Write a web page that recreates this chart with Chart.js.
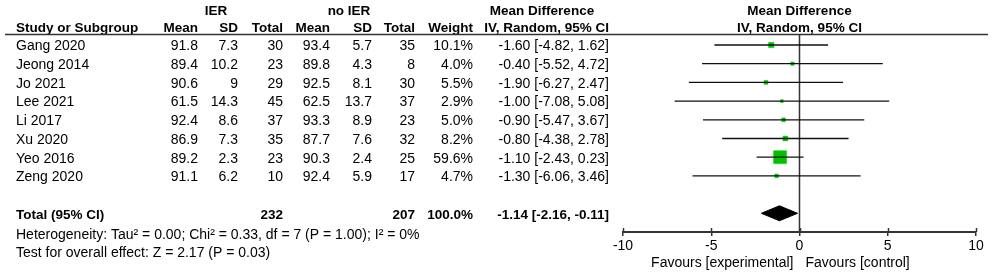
<!DOCTYPE html>
<html lang="en">
<head>
    <meta charset="UTF-8">
    <title>Forest plot - IER vs no IER</title>
    <script src="https://cdn.jsdelivr.net/npm/chart.js"></script>
    <style>
        body { margin: 0; background: #fff; }
        #wrap { width: 995px; height: 274px; }
    </style>
</head>
<body>
    <div id="wrap"><canvas id="forest"></canvas></div>

    <script>
        // study data
        const studies = ['Gang 2020', 'Jeong 2014', 'Jo 2021', 'Lee 2021', 'Li 2017', 'Xu 2020', 'Yeo 2016', 'Zeng 2020'];
        const ierMean = [91.8, 89.4, 90.6, 61.5, 92.4, 86.9, 89.2, 91.1];
        const ierSD = [7.3, 10.2, 9, 14.3, 8.6, 7.3, 2.3, 6.2];
        const ierTotal = [30, 23, 29, 45, 37, 35, 23, 10];
        const ctlMean = [93.4, 89.8, 92.5, 62.5, 93.3, 87.7, 90.3, 92.4];
        const ctlSD = [5.7, 4.3, 8.1, 13.7, 8.9, 7.6, 2.4, 5.9];
        const ctlTotal = [35, 8, 30, 37, 23, 32, 25, 17];
        const weights = [10.1, 4.0, 5.5, 2.9, 5.0, 8.2, 59.6, 4.7];
        const md = [-1.60, -0.40, -1.90, -1.00, -0.90, -0.80, -1.10, -1.30];
        const ciLow = [-4.82, -5.52, -6.27, -7.08, -5.47, -4.38, -2.43, -6.06];
        const ciHigh = [1.62, 4.72, 2.47, 5.08, 3.67, 2.78, 0.23, 3.46];

        // pooled result
        const pooled = { md: -1.14, low: -2.16, high: -0.11, ierN: 232, ctlN: 207 };
        const xTicks = [-10, -5, 0, 5, 10];

        const FONT = '"Liberation Sans", Arial, sans-serif';
        const GREEN = '#00c000';
        const LINE = '#333';

        // one row per study, row 10 = total
        const totalRow = 10;

        const datasets = [];

        // confidence interval lines
        studies.forEach((s, i) => {
            datasets.push({
                type: 'scatter',
                showLine: true,
                data: [{ x: ciLow[i], y: i + 1 }, { x: ciHigh[i], y: i + 1 }],
                borderColor: '#111',
                borderWidth: 1.3,
                pointRadius: 0
            });
        });

        // line of no effect
        datasets.push({
            type: 'scatter',
            showLine: true,
            data: [{ x: 0, y: 0.42 }, { x: 0, y: 11 }],
            borderColor: LINE,
            borderWidth: 1.5,
            pointRadius: 0
        });

        // weighted squares (side ~ sqrt of weight)
        datasets.push({
            type: 'scatter',
            data: md.map((v, i) => ({ x: v, y: i + 1 })),
            pointStyle: 'rect',
            pointRadius: weights.map(w => 13 * Math.sqrt(w / 59.6) / Math.SQRT2),
            pointBackgroundColor: GREEN,
            pointBorderColor: '#10c810',
            pointBorderWidth: 0.5
        });

        // pooled diamond
        datasets.push({
            type: 'line',
            data: [
                { x: pooled.low, y: totalRow },
                { x: pooled.md, y: totalRow - 0.4 },
                { x: pooled.high, y: totalRow },
                { x: pooled.md, y: totalRow + 0.4 },
                { x: pooled.low, y: totalRow }
            ],
            borderColor: '#000',
            borderWidth: 1,
            backgroundColor: '#000',
            fill: 'shape',
            pointRadius: 0,
            tension: 0
        });

        function txt(ctx, s, x, y, align, bold) {
            ctx.font = bold ? 'bold 13.5px ' + FONT : '14px ' + FONT;
            ctx.textAlign = align;
            ctx.textBaseline = 'middle';
            ctx.fillStyle = '#000';
            ctx.fillText(s, x, y);
        }

        const tablePlugin = {
            id: 'tablePlugin',
            afterDraw(chart) {
                const ctx = chart.ctx;
                const yS = chart.scales.y;
                const xS = chart.scales.x;
                const x0 = xS.getPixelForValue(0);
                const ry = v => yS.getPixelForValue(v) + 1.5;
                ctx.save();

                // header rows
                txt(ctx, 'IER', 216, ry(-0.87), 'center', true);
                txt(ctx, 'no IER', 349, ry(-0.87), 'center', true);
                txt(ctx, 'Mean Difference', 542, ry(-0.87), 'center', true);
                txt(ctx, 'Mean Difference', x0, ry(-0.87), 'center', true);

                const hy = ry(0.05);
                txt(ctx, 'Study or Subgroup', 16, hy, 'left', true);
                txt(ctx, 'Mean', 198, hy, 'right', true);
                txt(ctx, 'SD', 238, hy, 'right', true);
                txt(ctx, 'Total', 283, hy, 'right', true);
                txt(ctx, 'Mean', 330, hy, 'right', true);
                txt(ctx, 'SD', 372, hy, 'right', true);
                txt(ctx, 'Total', 415, hy, 'right', true);
                txt(ctx, 'Weight', 473, hy, 'right', true);
                txt(ctx, 'IV, Random, 95% CI', 609, hy, 'right', true);
                txt(ctx, 'IV, Random, 95% CI', x0, hy, 'center', true);

                // header rule
                const ly = Math.round(yS.getPixelForValue(0.41)) + 0.5;
                ctx.strokeStyle = LINE;
                ctx.lineWidth = 1.5;
                ctx.beginPath();
                ctx.moveTo(5, ly);
                ctx.lineTo(988, ly);
                ctx.stroke();

                // study rows
                studies.forEach((s, i) => {
                    const y = ry(i + 1);
                    txt(ctx, s, 16, y, 'left');
                    txt(ctx, String(ierMean[i]), 198, y, 'right');
                    txt(ctx, String(ierSD[i]), 238, y, 'right');
                    txt(ctx, String(ierTotal[i]), 283, y, 'right');
                    txt(ctx, String(ctlMean[i]), 330, y, 'right');
                    txt(ctx, String(ctlSD[i]), 372, y, 'right');
                    txt(ctx, String(ctlTotal[i]), 415, y, 'right');
                    txt(ctx, weights[i].toFixed(1) + '%', 473, y, 'right');
                    txt(ctx, md[i].toFixed(2) + ' [' + ciLow[i].toFixed(2) + ', ' + ciHigh[i].toFixed(2) + ']', 609, y, 'right');
                });

                // total row
                const ty = ry(totalRow);
                txt(ctx, 'Total (95% CI)', 16, ty, 'left', true);
                txt(ctx, String(pooled.ierN), 283, ty, 'right', true);
                txt(ctx, String(pooled.ctlN), 415, ty, 'right', true);
                txt(ctx, '100.0%', 473, ty, 'right', true);
                txt(ctx, pooled.md.toFixed(2) + ' [' + pooled.low.toFixed(2) + ', ' + pooled.high.toFixed(2) + ']', 609, ty, 'right', true);

                txt(ctx, 'Heterogeneity: Tau\u00b2 = 0.00; Chi\u00b2 = 0.33, df = 7 (P = 1.00); I\u00b2 = 0%', 16, ry(11) + 1.5, 'left');
                txt(ctx, 'Test for overall effect: Z = 2.17 (P = 0.03)', 16, ry(12) + 0.5, 'left');

                // upward halves of tick marks
                const b = chart.chartArea.bottom;
                ctx.lineWidth = 1.5;
                xTicks.forEach(t => {
                    const px = Math.round(xS.getPixelForValue(t)) + 0.5;
                    ctx.beginPath();
                    ctx.moveTo(px, b - 4);
                    ctx.lineTo(px, b);
                    ctx.stroke();
                });

                // favours labels
                txt(ctx, 'Favours [experimental]', x0 - 6, b + 31, 'right');
                txt(ctx, 'Favours [control]', x0 + 6, b + 31, 'left');
                ctx.restore();
            }
        };

        new Chart(document.getElementById('forest'), {
            type: 'scatter',
            data: { datasets: datasets },
            options: {
                responsive: true,
                maintainAspectRatio: false,
                animation: false,
                layout: { autoPadding: false, padding: { left: 623, right: 19, top: 0, bottom: 0 } },
                plugins: { legend: { display: false }, tooltip: { enabled: false } },
                scales: {
                    x: {
                        type: 'linear',
                        min: -10,
                        max: 10,
                        afterBuildTicks: s => { s.ticks = xTicks.map(v => ({ value: v })); },
                        afterFit: s => { s.height = 42; },
                        grid: { drawOnChartArea: false, drawTicks: true, tickLength: 4, color: LINE, lineWidth: 1.5 },
                        border: { display: true, color: LINE, width: 2 },
                        ticks: { color: '#000', padding: 2, font: { family: FONT, size: 14 } }
                    },
                    y: {
                        type: 'linear',
                        display: false,
                        reverse: true,
                        min: -1.406,
                        max: 11
                    }
                }
            },
            plugins: [tablePlugin]
        });
    </script>
</body>
</html>
